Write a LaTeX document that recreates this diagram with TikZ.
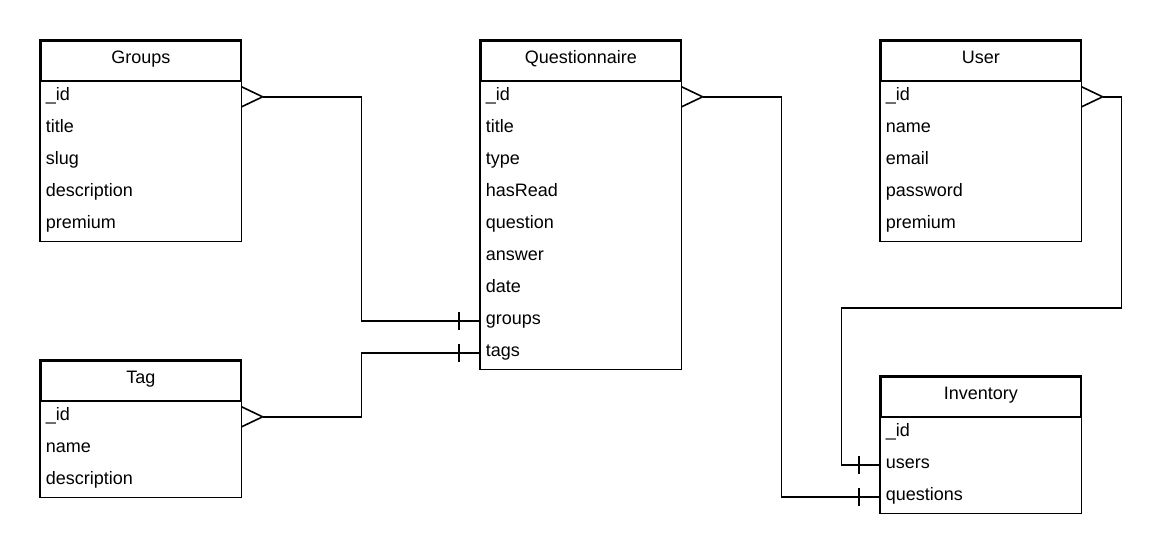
\documentclass[tikz,border=0pt]{standalone}
\usepackage{fontspec}
\setmainfont{Liberation Sans}
\begin{document}
\begin{tikzpicture}[x = 1pt, y = -1pt, line width = 1.6pt,
    head/.style = {draw, minimum width = 200pt, minimum height = 40pt,
        inner sep = 0pt, text height = 11pt, text depth = 6pt,
        anchor = north west, font = \fontsize{18}{21}\selectfont},
    row/.style = {text width = 190pt, inner xsep = 5pt, inner ysep = 0pt,
        text height = 12pt, text depth = 5pt,
        minimum height = 32pt, anchor = north west, align = left,
        font = \fontsize{18}{21}\selectfont}]
\useasboundingbox (0, 0) rectangle (1161, 552);

% Groups
\node [head] (g) at (40, 40) {Groups};
\foreach \f/\n [count = \i from 0] in {\_id/id, title/title, slug/slug,
    description/description, premium/premium}
    \node [row] (g-\n) at (40, 80 + 32*\i) {\f};
\draw (g.north west) rectangle (g-premium.south east);

% Tag
\node [head] (t) at (40, 360) {Tag};
\foreach \f/\n [count = \i from 0] in {\_id/id, name/name, description/description}
    \node [row] (t-\n) at (40, 400 + 32*\i) {\f};
\draw (t.north west) rectangle (t-description.south east);

% Questionnaire
\node [head] (q) at (480, 40) {Questionnaire};
\foreach \f/\n [count = \i from 0] in {\_id/id, title/title, type/type,
    hasRead/hasRead, question/question, answer/answer, date/date,
    groups/groups, tags/tags}
    \node [row] (q-\n) at (480, 80 + 32*\i) {\f};
\draw (q.north west) rectangle (q-tags.south east);

% User
\node [head] (u) at (880, 40) {User};
\foreach \f/\n [count = \i from 0] in {\_id/id, name/name, email/email,
    password/password, premium/premium}
    \node [row] (u-\n) at (880, 80 + 32*\i) {\f};
\draw (u.north west) rectangle (u-premium.south east);

% Inventory
\node [head] (i) at (880, 376) {Inventory};
\foreach \f/\n [count = \i from 0] in {\_id/id, users/users, questions/questions}
    \node [row] (i-\n) at (880, 416 + 32*\i) {\f};
\draw (i.north west) rectangle (i-questions.south east);

% connectors
\draw ([xshift = 21pt]g-id.east) -- ++(99, 0) |- (q-groups.west);
\draw ([xshift = 21pt]t-id.east) -- ++(99, 0) |- (q-tags.west);
\draw ([xshift = 21pt]q-id.east) -- ++(79, 0) |- (i-questions.west);
\draw ([xshift = 21pt]u-id.east) -- ++(19, 0) -- ++(0, 211) -- ++(-280, 0)
    |- (i-users.west);

% many ends
\foreach \e in {g-id, t-id, q-id, u-id}
    \draw ([yshift = -10pt]\e.east) -- ([xshift = 21pt]\e.east)
        -- ([yshift = 10pt]\e.east);

% one ends
\foreach \e in {q-groups, q-tags, i-users, i-questions}
    \draw ([xshift = -21pt, yshift = -9pt]\e.west)
        -- ([xshift = -21pt, yshift = 9pt]\e.west);
\end{tikzpicture}
\end{document}
